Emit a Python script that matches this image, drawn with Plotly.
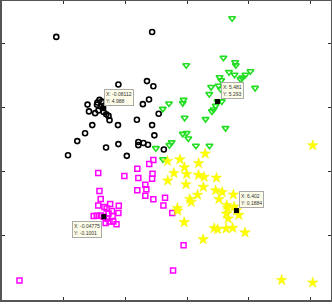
import plotly.graph_objects as go

# ---- data ----
black_x = [-2.36, 2.30, 0.66, 2.05, 2.36, 2.15, 1.85, 2.62, -0.84, -0.77, -0.38, -0.26, -0.14,
           -0.31, -0.06, 0.07, 0.18, 0.23, -0.47, -0.19, -0.36, 1.56, -0.61, 0.64, 2.30, -0.96,
           2.41, -1.34, 0.06, 0.66, 1.63, 1.63, 1.88, 2.10, 2.87, -1.79, 1.07, -0.08112]
black_y = [8.32, 8.55, 6.09, 6.25, 6.01, 5.39, 5.17, 4.72, 5.15, 4.83, 5.14, 5.37, 5.29,
           4.87, 4.80, 4.70, 4.62, 4.42, 4.75, 5.06, 5.25, 4.44, 4.19, 4.19, 4.19, 3.81,
           3.71, 3.44, 3.14, 3.30, 3.40, 3.25, 3.35, 3.27, 3.05, 2.78, 2.75, 4.988]

green_x = [6.19, 5.77, 6.34, 6.37, 3.96, 6.04, 6.31, 5.58, 7.08, 6.84, 6.69, 6.60, 5.66,
           5.17, 5.53, 5.64, 5.86, 7.31, 5.08, 3.83, 3.79, 3.12, 5.39, 5.29, 5.21, 5.69,
           2.82, 3.88, 4.90, 5.87, 3.79, 3.98, 4.06, 3.25, 3.14, 4.43, 5.09, 2.48, 2.83, 5.481]
green_y = [9.19, 7.34, 7.13, 6.99, 6.99, 6.67, 6.55, 6.43, 6.71, 6.55, 6.41, 6.34, 6.29,
           5.97, 6.03, 5.87, 6.05, 5.93, 5.64, 5.37, 5.22, 5.20, 5.09, 4.92, 4.83, 5.30,
           4.95, 4.53, 4.47, 4.05, 3.78, 3.82, 3.56, 3.38, 3.25, 3.22, 3.22, 3.11, 2.59, 5.293]

magenta_x = [-0.32, 0.95, 1.58, 2.16, 2.36, 1.63, 2.32, 2.30, 1.97, 1.58, 2.02, 1.97, 2.36,
             2.93, 2.85, 3.28, 3.83, 3.32, -0.26, -0.20, -0.32, 0.68, 0.66, 0.57, -0.02,
             0.26, 0.09, 0.35, 0.18, 0.38, 0.10, 0.23, 0.04, 0.41, -0.54, -0.39, -0.20,
             -4.15, -0.04775]
magenta_y = [1.95, 1.81, 2.15, 2.37, 2.56, 1.71, 1.91, 1.68, 1.40, 1.14, 1.19, 0.88, 0.72,
             0.79, 0.42, 0.07, -1.44, -2.62, 1.10, 0.73, 0.43, 0.41, 0.07, -0.45, 0.35,
             0.50, 0.28, 0.17, 0.05, -0.07, -0.18, -0.32, -0.39, -0.33, -0.07, -0.06, -0.04,
             -3.09, -0.1001]

yellow_x = [4.88, 3.65, 3.05, 4.56, 3.87, 3.36, 3.98, 4.56, 4.83, 5.43, 3.06, 3.95, 4.79,
            5.39, 5.71, 4.51, 6.25, 4.13, 4.20, 5.55, 5.93, 5.97, 6.29, 3.53, 3.54, 5.92,
            6.52, 6.00, 3.86, 5.32, 5.48, 5.90, 6.22, 6.82, 4.78, 8.60, 10.11, 10.11, 6.402]
yellow_y = [2.85, 2.58, 2.50, 2.40, 2.21, 1.94, 1.89, 1.85, 1.76, 1.72, 1.59, 1.41, 1.29,
            1.13, 1.05, 0.92, 0.93, 0.72, 0.58, 0.72, 0.44, 0.30, 0.37, 0.30, 0.18, 0.04,
            -0.02, -0.19, -0.36, -0.64, -0.69, -0.66, -0.63, -0.84, -1.16, -3.07, -3.19,
            3.24, 0.1884]

tip_x = [-0.08112, 5.481, 6.402, -0.04775]
tip_y = [4.988, 5.293, 0.1884, -0.1001]
tip_labels = ["X: -0.08112<br>Y: 4.988", "X: 5.481<br>Y: 5.293",
              "X: 6.402<br>Y: 0.1884", "X: -0.04775<br>Y: -0.1001"]

x_ticks = [-5, -2, 1, 4, 7, 10]
y_ticks = [-4, -1, 2, 5, 8]

fig = go.Figure()
fig.add_trace(go.Scatter(x=black_x, y=black_y, mode="markers",
                         marker=dict(symbol="circle-open", size=5, color="black",
                                     line=dict(width=1.6, color="black"))))
fig.add_trace(go.Scatter(x=green_x, y=green_y, mode="markers",
                         marker=dict(symbol="triangle-down-open", size=6, color="#22dd22",
                                     line=dict(width=1.6, color="#22dd22"))))
fig.add_trace(go.Scatter(x=magenta_x, y=magenta_y, mode="markers",
                         marker=dict(symbol="square-open", size=5, color="#ff00ff",
                                     line=dict(width=1.5, color="#ff00ff"))))
fig.add_trace(go.Scatter(x=yellow_x, y=yellow_y, mode="markers",
                         marker=dict(symbol="star", size=8, color="#ffff00",
                                     line=dict(width=0.5, color="#f0f000"))))
fig.add_trace(go.Scatter(x=tip_x, y=tip_y, mode="markers",
                         marker=dict(symbol="square", size=5, color="black",
                                     line=dict(width=0))))

# datatip boxes: (xanchor, yanchor, xshift, yshift)
tip_style = [("left", "bottom", 1, 2), ("left", "bottom", 3, 3),
             ("left", "bottom", 3, 3), ("right", "top", -2, -4)]
for xv, yv, lab, (xa, ya, xs, ys) in zip(tip_x, tip_y, tip_labels, tip_style):
    fig.add_annotation(x=xv, y=yv, text=lab, showarrow=False, xanchor=xa, yanchor=ya,
                       xshift=xs, yshift=ys, align="left",
                       font=dict(family="Liberation Sans", size=5, color="#333"),
                       bgcolor="#fcfce8", bordercolor="#aaa", borderwidth=1, borderpad=1)

axis_common = dict(showgrid=False, zeroline=False, showline=True, mirror="ticks",
                   linecolor="#555", linewidth=1.5, ticks="inside", ticklen=3,
                   tickcolor="#333", tickwidth=1, automargin=False,
                   tickfont=dict(family="Liberation Sans", size=9, color="#333"))

fig.update_xaxes(range=[-5, 11], tickvals=x_ticks, ticktext=[str(v) for v in x_ticks],
                 **axis_common)
fig.update_yaxes(range=[-4, 10], tickvals=y_ticks, ticktext=[str(v) for v in y_ticks],
                 **axis_common)

fig.update_layout(width=332, height=306, showlegend=False,
                  margin=dict(l=1.5, r=0.5, t=1, b=5.5, pad=0),
                  plot_bgcolor="white", paper_bgcolor="white")

fig.write_html("out.html", config={"displayModeBar": False})
